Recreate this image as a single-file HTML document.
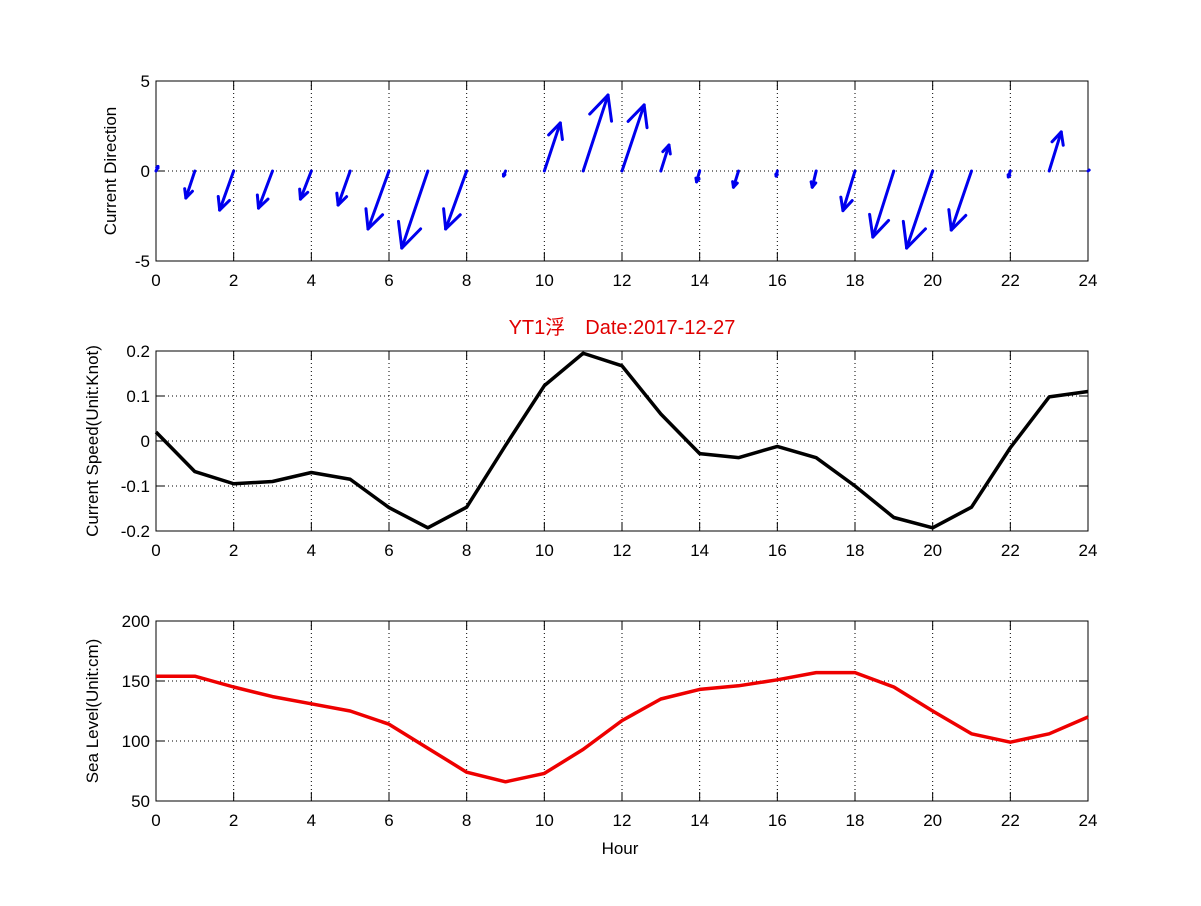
<!DOCTYPE html>
<html><head><meta charset="utf-8"><style>
body{margin:0;background:#fff}
svg text{font-family:"Liberation Sans","Noto Sans CJK SC",sans-serif;font-size:17px;fill:#000}
</style></head><body>
<svg id="c" width="1201" height="901" xmlns="http://www.w3.org/2000/svg">
<rect width="1201" height="901" fill="#fff"/>
<text x="622" y="334" text-anchor="middle" style="fill:#e00000;font-size:20px">YT1浮　Date:2017-12-27</text>
<text x="620" y="854" text-anchor="middle">Hour</text>
</svg>
<script>
const hours=[0,1,2,3,4,5,6,7,8,9,10,11,12,13,14,15,16,17,18,19,20,21,22,23,24];
const dirU=[0.05,-0.23,-0.36,-0.36,-0.28,-0.31,-0.54,-0.67,-0.54,-0.05,0.41,0.64,0.57,0.21,-0.08,-0.13,-0.03,-0.1,-0.31,-0.54,-0.67,-0.52,-0.05,0.31,0.03];
const dirV=[0.25,-1.5,-2.17,-2.06,-1.56,-1.89,-3.22,-4.28,-3.22,-0.28,2.67,4.22,3.67,1.44,-0.6,-0.9,-0.28,-0.9,-2.2,-3.67,-4.28,-3.28,-0.33,2.17,0.05];
const speed=[0.02,-0.068,-0.095,-0.09,-0.07,-0.085,-0.148,-0.193,-0.147,-0.01,0.123,0.195,0.167,0.06,-0.028,-0.037,-0.012,-0.037,-0.1,-0.17,-0.193,-0.147,-0.015,0.098,0.11];
const seaLevel=[154,154,145,137,131,125,114,94,74,66,73,93,117,135,143,146,151,157,157,145,125,106,99,106,120];
const xTicks=[0,2,4,6,8,10,12,14,16,18,20,22,24];
const dirTicks=[-5,0,5];
const speedTicks=[-0.2,-0.1,0,0.1,0.2];
const speedLabels=["-0.2","-0.1","0","0.1","0.2"];
const seaTicks=[50,100,150,200];

const svg=document.getElementById('c');
const NS='http://www.w3.org/2000/svg';
const X0=156,X1=1088;
const xs=h=>X0+(h-0)/24*(X1-X0);
function mk(tag,attrs,parent){const e=document.createElementNS(NS,tag);for(const k in attrs)e.setAttribute(k,attrs[k]);(parent||svg).appendChild(e);return e;}

function axes(name,top,bot,ymin,ymax,yt,ylab,ytitle){
  const ys=v=>bot-(v-ymin)/(ymax-ymin)*(bot-top);
  const g=mk('g',{});
  
  
  xTicks.forEach(t=>{
    if(t>0&&t<24){const l=mk('line',{x1:xs(t),x2:xs(t),y1:top,y2:bot,stroke:'#000','stroke-width':1,'stroke-dasharray':'1,3'},g);
    
    }
    mk('line',{x1:xs(t),x2:xs(t),y1:bot,y2:bot-9,stroke:'#000'},g);
    mk('line',{x1:xs(t),x2:xs(t),y1:top,y2:top+9,stroke:'#000'},g);
    const tx=mk('text',{x:xs(t),y:bot+25,'text-anchor':'middle'},g);tx.textContent=t;
    
    
  });
  yt.forEach((t,i)=>{
    const y=ys(t);
    if(t>ymin&&t<ymax){const l=mk('line',{x1:X0,x2:X1,y1:y,y2:y,stroke:'#000','stroke-width':1,'stroke-dasharray':'1,3'},g);
    
    }
    mk('line',{x1:X0,x2:X0+9,y1:y,y2:y,stroke:'#000'},g);
    mk('line',{x1:X1,x2:X1-9,y1:y,y2:y,stroke:'#000'},g);
    const tx=mk('text',{x:X0-6,y:y+6,'text-anchor':'end'},g);tx.textContent=ylab[i];
    
    
  });
  mk('rect',{x:X0,y:top,width:X1-X0,height:bot-top,fill:'none',stroke:'#000'},g);
  const cy=(top+bot)/2;
  const tt=mk('text',{x:0,y:0,'text-anchor':'middle',transform:`translate(${name==='direction'?116:98},${cy}) rotate(-90)`},g);
  tt.textContent=ytitle;
  
  
  return ys;
}

const ysD=axes('direction',81,261,-5,5,dirTicks,dirTicks.map(String),'Current Direction');
hours.forEach((h,i)=>{
  const x0=xs(h),y0=ysD(0),x1=xs(h+dirU[i]),y1=ysD(dirV[i]);
  const dx=x1-x0,dy=y1-y0,len=Math.hypot(dx,dy);
  const g=mk('g',{stroke:'#0000ee','stroke-width':3,fill:'none','stroke-linecap':'round'});
  
  
  mk('line',{x1:x0,y1:y0,x2:x1,y2:y1},g);
  if(len>3){
    const hl=len*0.33,a=Math.atan2(dy,dx),sp=0.45;
    mk('line',{x1:x1,y1:y1,x2:x1-hl*Math.cos(a-sp),y2:y1-hl*Math.sin(a-sp)},g);
    mk('line',{x1:x1,y1:y1,x2:x1-hl*Math.cos(a+sp),y2:y1-hl*Math.sin(a+sp)},g);
  }
});

const ysS=axes('speed',351,531,-0.2,0.2,speedTicks,speedLabels,'Current Speed(Unit:Knot)');
const ps=mk('polyline',{points:hours.map((h,i)=>xs(h)+','+ysS(speed[i])).join(' '),fill:'none',stroke:'#000','stroke-width':3.5,'stroke-linejoin':'round'});



const ysL=axes('sealevel',621,801,50,200,seaTicks,seaTicks.map(String),'Sea Level(Unit:cm)');
const pl=mk('polyline',{points:hours.map((h,i)=>xs(h)+','+ysL(seaLevel[i])).join(' '),fill:'none',stroke:'#ee0000','stroke-width':3.5,'stroke-linejoin':'round'});


</script>
</body></html>
